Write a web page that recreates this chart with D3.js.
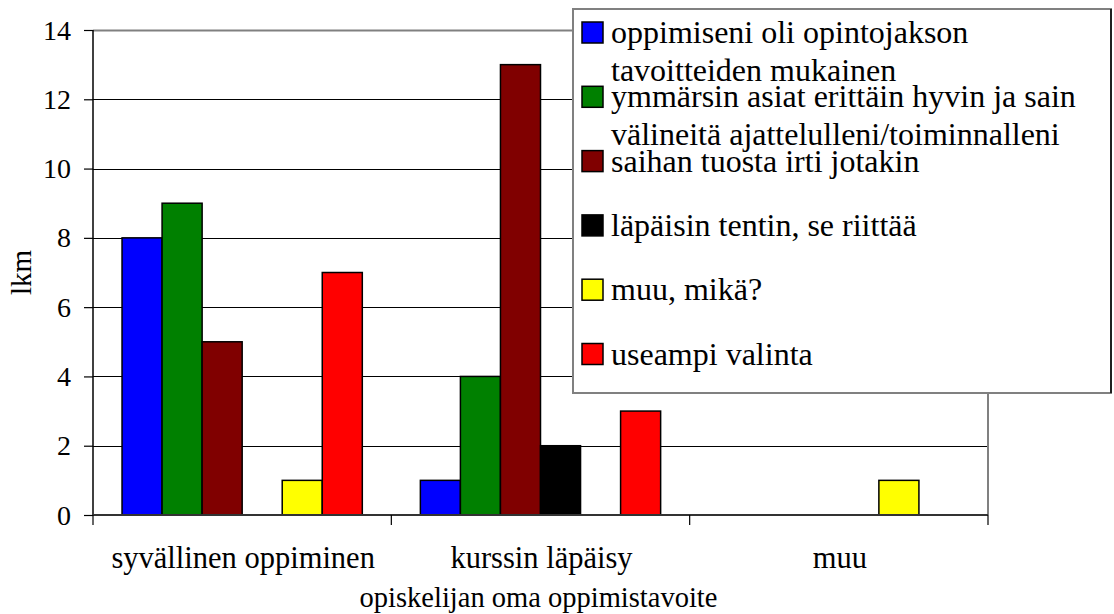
<!DOCTYPE html>
<html><head><meta charset="utf-8">
<script src="https://cdn.jsdelivr.net/npm/d3@7"></script>
<style>body{margin:0;background:#fff}svg{display:block}</style>
</head><body>
<script>
const categories = ["syvällinen oppiminen", "kurssin läpäisy", "muu"];
const seriesNames = [
  ["oppimiseni oli opintojakson", "tavoitteiden mukainen"],
  ["ymmärsin asiat erittäin hyvin ja sain", "välineitä ajattelulleni/toiminnalleni"],
  ["saihan tuosta irti jotakin"],
  ["läpäisin tentin, se riittää"],
  ["muu, mikä?"],
  ["useampi valinta"]
];
const seriesColors = ["#0000ff", "#008000", "#800000", "#000000", "#ffff00", "#ff0000"];
const valuesOppimiseni = [8, 1, 0];
const valuesYmmarsin = [9, 4, 0];
const valuesSaihan = [5, 13, 0];
const valuesLapaisin = [0, 2, 0];
const valuesMuu = [1, 0, 1];
const valuesUseampi = [7, 3, 0];
const series = [valuesOppimiseni, valuesYmmarsin, valuesSaihan, valuesLapaisin, valuesMuu, valuesUseampi];
const yTicks = [0, 2, 4, 6, 8, 10, 12, 14];
const yTitle = "lkm";
const xTitle = "opiskelijan oma oppimistavoite";

const FONT = "Liberation Serif";
const W = 1114, H = 614;
const L = 93, R = 988, T = 30, B = 515;
const svg = d3.select("body").append("svg").attr("width", W).attr("height", H);

const y = d3.scaleLinear().domain([0, 14]).range([B, T]);
const x0 = d3.scaleBand().domain(categories).range([L, R]).paddingInner(0).paddingOuter(0);
const x1 = d3.scaleBand().domain(d3.range(series.length)).range([0, x0.bandwidth()]).paddingOuter(0.725).paddingInner(0);

function addText(x, yy, str, size, anchor, transform) {
  const t = svg.append("text").attr("font-family", FONT).attr("font-size", size).attr("fill", "#000")
    .attr("text-anchor", anchor || "start").text(str);
  if (transform) t.attr("transform", transform); else t.attr("x", x).attr("y", yy);
  return t;
}

// gridlines
svg.append("g").selectAll("line").data(yTicks.filter(d => d > 0 && d < 14)).join("line")
  .attr("x1", L).attr("x2", R).attr("y1", d => Math.round(y(d)) + 0.5).attr("y2", d => Math.round(y(d)) + 0.5)
  .attr("stroke", "#000").attr("stroke-width", 1);
// plot border top/right (gray)
svg.append("path").attr("d", `M${L},${Math.round(T)+0.5}H${R}V${B}`).attr("fill", "none").attr("stroke", "#808080").attr("stroke-width", 2);

// bars
const groups = svg.append("g").selectAll("g").data(categories).join("g")
  .attr("transform", c => `translate(${x0(c)},0)`);
groups.selectAll("rect").data((c, ci) => series.map((s, si) => ({si, v: s[ci]})).filter(d => d.v > 0)).join("rect")
  .attr("x", d => x1(d.si)).attr("width", x1.bandwidth())
  .attr("y", d => y(d.v)).attr("height", d => y(0) - y(d.v))
  .attr("fill", d => seriesColors[d.si]).attr("stroke", "#000").attr("stroke-width", 1.5);

// y axis (lines via d3.axisLeft, labels drawn from the same scale)
const yAxis = d3.axisLeft(y).tickValues(yTicks).tickSize(9).tickFormat("");
const gy = svg.append("g").attr("transform", `translate(${L},0)`).call(yAxis);
gy.select(".domain").attr("stroke", "#000").attr("stroke-width", 1.5).attr("d", `M0,${T}V${B}`);
gy.selectAll(".tick line").attr("stroke", "#000").attr("stroke-width", 1.2);
yTicks.forEach(v => addText(71, y(v) + 9.5, String(v), 28, "end"));

// x axis
const gx = svg.append("g").attr("transform", `translate(0,${B})`);
gx.append("line").attr("x1", L).attr("x2", R).attr("y1", 0).attr("y2", 0).attr("stroke", "#333").attr("stroke-width", 2);
const bounds = categories.map(c => x0(c)).concat([R]);
gx.selectAll("line.tk").data(bounds).join("line").attr("class", "tk")
  .attr("x1", d => d).attr("x2", d => d).attr("y1", 0).attr("y2", 10).attr("stroke", "#000").attr("stroke-width", 1.2);
categories.forEach(c => addText(x0(c) + x0.bandwidth() / 2 + 1, B + 53, c, 30.5, "middle"));

// titles
addText((L + R) / 2 - 2, 607, xTitle, 28.5, "middle");
addText(0, 0, yTitle, 29, "middle", `translate(31,${(T + B) / 2}) rotate(-90)`);

// legend
svg.append("rect").attr("x", 573).attr("y", 9).attr("width", 538).attr("height", 384)
  .attr("fill", "#fff").attr("stroke", "#808080").attr("stroke-width", 2);
svg.append("line").attr("x1", 1111).attr("x2", 1111).attr("y1", 9).attr("y2", 393).attr("stroke", "#000").attr("stroke-width", 1.5);
seriesNames.forEach((lines, i) => {
  const top = 22 + i * 64.3;
  svg.append("rect").attr("x", 582).attr("y", top).attr("width", 21).attr("height", 21)
    .attr("fill", seriesColors[i]).attr("stroke", "#000").attr("stroke-width", 1.5);
  lines.forEach((t, k) => addText(611, top + 21 + k * 38, t, 32, "start"));
});
</script>
</body></html>
